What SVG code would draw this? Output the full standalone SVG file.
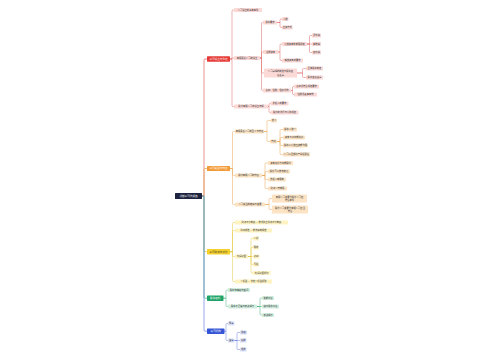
<svg xmlns="http://www.w3.org/2000/svg" width="500" height="360" viewBox="0 0 500 360">
<style>
text{font-family:"Noto Sans CJK SC","Noto Sans",sans-serif;text-anchor:middle}
.t{font-size:2.3px;fill:#333333}
.m{font-size:2.6px;fill:#ffffff}
.my{font-size:2.6px;fill:#333333}
.c{fill:none;stroke-linecap:round;stroke-linejoin:round}
.main{stroke-width:0.7}
.sub{stroke-width:0.5}
.cr{stroke:#de6464}.co{stroke:#eba552}.cy{stroke:#e3c83c}.cg{stroke:#45b27e}.cb{stroke:#6a80dc}
.fr{fill:#fbd9d6}.fo{fill:#fce3c4}.fy{fill:#fff3c2}.fg{fill:#d2eedf}.fb{fill:#d9e0fa}
</style>
<rect width="500" height="360" fill="#ffffff"/>
<g id="connectors">
<path class="c main cr" d="M202 196 H204 V60 Q204 59 205 59 H207"/>
<path class="c main co" d="M202 196 H204 V169.5 Q204 168.5 205 168.5 H207"/>
<path class="c main cy" d="M202 196 H204 V250.7 Q204 251.7 205 251.7 H207"/>
<path class="c main cg" d="M202 196 H204 V297.2 Q204 298.2 205 298.2 H207"/>
<path class="c main cb" d="M202 196 H204 V330.2 Q204 331.2 205 331.2 H207"/>
<g class="c sub cr">
<path d="M230 59 H232 V11 Q232 10 233 10 H234"/>
<path d="M230 59 H232 V58.5 Q232 58 233 58 H234"/>
<path d="M230 59 H232 V105.5 Q232 106.5 233 106.5 H234"/>
<path d="M260 58 H261.5 V23.5 Q261.5 22.5 262.5 22.5 H263"/>
<path d="M260 58 H261.5 V53 Q261.5 52 262.5 52 H263"/>
<path d="M260 58 H261.5 V72 Q261.5 73 262.5 73 H264"/>
<path d="M260 58 H261.5 V89.5 Q261.5 90.5 262.5 90.5 H263"/>
<path d="M277 22.5 H280 V20 Q280 19 281 19 H282"/>
<path d="M277 22.5 H280 V26.5 Q280 27.5 281 27.5 H282"/>
<path d="M278 52 H280 V45 Q280 44 281 44 H282"/>
<path d="M278 52 H280 V59.5 Q280 60.5 281 60.5 H282"/>
<path d="M307 44 H309.5 V36.5 Q309.5 35.5 310.5 35.5 H312"/>
<path d="M307 44 H312"/>
<path d="M307 44 H309.5 V51.5 Q309.5 52.5 310.5 52.5 H312"/>
<path d="M297 73 H302.5 V69.5 Q302.5 68.5 303.5 68.5 H306"/>
<path d="M297 73 H302.5 V76.5 Q302.5 77.5 303.5 77.5 H306"/>
<path d="M291 90.5 H292.5 V87.5 Q292.5 86.5 293.5 86.5 H294"/>
<path d="M291 90.5 H292.5 V93.5 Q292.5 94.5 293.5 94.5 H294"/>
<path d="M268 106.5 H269 V104.5 Q269 103.5 270 103.5 H270.5"/>
<path d="M268 106.5 H269 V111.5 Q269 112.5 270 112.5 H270.5"/>
</g>
<g class="c sub co">
<path d="M230 168.5 H232.5 V132.5 Q232.5 131.5 233.5 131.5 H235"/>
<path d="M230 168.5 H232.5 V174.5 Q232.5 175.5 233.5 175.5 H235"/>
<path d="M230 168.5 H232.5 V203.5 Q232.5 204.5 233.5 204.5 H235"/>
<path d="M264 131.5 H267 V121.5 Q267 120.5 268 120.5 H271"/>
<path d="M264 131.5 H267 V140.5 Q267 141.5 268 141.5 H270"/>
<path d="M277 141.5 H280 V130.5 Q280 129.5 281 129.5 H283"/>
<path d="M277 141.5 H280 V138.5 Q280 137.5 281 137.5 H283"/>
<path d="M277 141.5 H280 V144.5 Q280 145.5 281 145.5 H283"/>
<path d="M277 141.5 H280 V153.5 Q280 154.5 281 154.5 H283"/>
<path d="M262 175.5 H265 V164 Q265 163 266 163 H268"/>
<path d="M262 175.5 H265 V172.5 Q265 171.5 266 171.5 H268"/>
<path d="M262 175.5 H265 V178.5 Q265 179.5 266 179.5 H268"/>
<path d="M262 175.5 H265 V187.5 Q265 188.5 266 188.5 H268"/>
<path d="M265 204.5 H269 V199.5 Q269 198.5 270 198.5 H272"/>
<path d="M265 204.5 H269 V208.5 Q269 209.5 270 209.5 H272"/>
</g>
<g class="c sub cy">
<path d="M230 251.7 H232.5 V223.5 Q232.5 222.5 233.5 222.5 H235"/>
<path d="M230 251.7 H232.5 V231.5 Q232.5 230.5 233.5 230.5 H235"/>
<path d="M230 251.7 H232.5 V255.5 Q232.5 256.5 233.5 256.5 H235"/>
<path d="M230 251.7 H232.5 V280.5 Q232.5 281.5 233.5 281.5 H235"/>
<path d="M248 256.5 H251 V239.5 Q251 238.5 252 238.5 H253"/>
<path d="M248 256.5 H251 V248.5 Q251 247.5 252 247.5 H253"/>
<path d="M248 256.5 H253"/>
<path d="M248 256.5 H251 V263.5 Q251 264.5 252 264.5 H253"/>
<path d="M248 256.5 H251 V272 Q251 273 252 273 H253"/>
</g>
<g class="c sub cg">
<path d="M223.5 298.2 H226 V291 Q226 290 227 290 H228"/>
<path d="M223.5 298.2 H226 V305.5 Q226 306.5 227 306.5 H228"/>
<path d="M257 306.5 H260 V299 Q260 298 261 298 H262"/>
<path d="M257 306.5 H262"/>
<path d="M257 306.5 H260 V314 Q260 315 261 315 H262"/>
</g>
<g class="c sub cb">
<path d="M224.5 331.2 H226 V324.5 Q226 323.5 227 323.5 H228"/>
<path d="M224.5 331.2 H226 V339.5 Q226 340.5 227 340.5 H228"/>
<path d="M234.5 340.5 H237 V333.5 Q237 332.5 238 332.5 H240"/>
<path d="M234.5 340.5 H240"/>
<path d="M234.5 340.5 H237 V348.5 Q237 349.5 238 349.5 H240"/>
</g>
</g>

<g id="root"><rect x="175" y="193" width="27" height="6" rx="0.6" fill="#1e2340"/><text class="m" x="188.5" y="196.9">新版公司法解读</text></g>

<g id="n-red"><rect x="207" y="56.3" width="23" height="5.4" rx="0.6" fill="#e53935"/><text class="m" x="218.5" y="59.9">公司设立与登记</text></g>
<g id="n-a1"><rect class="fr" x="234" y="8" width="28" height="4" rx="0.5"/><text class="t" x="248" y="10.8">公司设立的基本条件</text></g>
<g id="n-a2"><rect class="fr" x="234" y="56" width="26" height="4" rx="0.5"/><text class="t" x="247" y="58.8">有限责任公司的设立</text></g>
<g id="n-a3"><rect class="fr" x="234" y="104.5" width="34" height="4" rx="0.5"/><text class="t" x="251" y="107.3">股份有限公司的设立流程</text></g>
<g id="n-b1"><rect class="fr" x="263" y="20.5" width="14" height="4" rx="0.5"/><text class="t" x="270" y="23.3">股东要求</text></g>
<g id="n-b2"><rect class="fr" x="263" y="50" width="15" height="4" rx="0.5"/><text class="t" x="270.5" y="52.8">注册资本</text></g>
<g id="n-b3"><rect class="fr" x="264" y="68.5" width="33" height="9" rx="0.5"/><text class="t" x="280.5" y="72.2">公司章程的制定与股东签</text><text class="t" x="280.5" y="75.6">名盖章</text></g>
<g id="n-b4"><rect class="fr" x="263" y="88.5" width="28" height="4" rx="0.5"/><text class="t" x="277" y="91.3">名称、住所、组织机构</text></g>
<g id="n-c1"><rect class="fr" x="282" y="17" width="6.5" height="4" rx="0.5"/><text class="t" x="285.25" y="19.8">人数</text></g>
<g id="n-c2"><rect class="fr" x="282" y="25.5" width="10.5" height="4" rx="0.5"/><text class="t" x="287.25" y="28.3">出资方式</text></g>
<g id="n-c3"><rect class="fr" x="282" y="42" width="25" height="4" rx="0.5"/><text class="t" x="294.5" y="44.8">认缴资本的期限规定</text></g>
<g id="n-c4"><rect class="fr" x="282" y="58.5" width="21" height="4" rx="0.5"/><text class="t" x="292.5" y="61.3">实缴资本的要求</text></g>
<g id="n-d1"><rect class="fr" x="312" y="33.5" width="9" height="4" rx="0.5"/><text class="t" x="316.5" y="36.3">货币类</text></g>
<g id="n-d2"><rect class="fr" x="312" y="42" width="9" height="4" rx="0.5"/><text class="t" x="316.5" y="44.8">实物类</text></g>
<g id="n-d3"><rect class="fr" x="312" y="50.5" width="9" height="4" rx="0.5"/><text class="t" x="316.5" y="53.3">权利类</text></g>
<g id="n-c5"><rect class="fr" x="306" y="66.5" width="17" height="4" rx="0.5"/><text class="t" x="314.5" y="69.3">全体股东制定</text></g>
<g id="n-c6"><rect class="fr" x="306" y="75.5" width="17" height="4" rx="0.5"/><text class="t" x="314.5" y="78.3">股东签名盖章</text></g>
<g id="n-c7"><rect class="fr" x="294" y="84.5" width="25" height="4" rx="0.5"/><text class="t" x="306.5" y="87.3">名称须符合规定要求</text></g>
<g id="n-c8"><rect class="fr" x="294" y="92.5" width="23" height="4" rx="0.5"/><text class="t" x="305.5" y="95.3">住所须真实有效</text></g>
<g id="n-c9"><rect class="fr" x="270.5" y="101.5" width="18" height="4" rx="0.5"/><text class="t" x="279.5" y="104.3">发起人的要求</text></g>
<g id="n-c10"><rect class="fr" x="270.5" y="110.5" width="28" height="4" rx="0.5"/><text class="t" x="284.5" y="113.3">股份的发行与认购规定</text></g>

<g id="n-orange"><rect x="207" y="166" width="23" height="5" rx="0.6" fill="#f39a36"/><text class="m" x="218.5" y="169.4">公司类型与特点</text></g>
<g id="n-e1"><rect class="fo" x="235" y="129.5" width="29" height="4" rx="0.5"/><text class="t" x="249.5" y="132.3">有限责任公司的含义与特征</text></g>
<g id="n-e2"><rect class="fo" x="235" y="173.5" width="27" height="4" rx="0.5"/><text class="t" x="248.5" y="176.3">股份有限公司的特征</text></g>
<g id="n-e3"><rect class="fo" x="235" y="202.5" width="30" height="4" rx="0.5"/><text class="t" x="250" y="205.3">公司类型的转换与变更</text></g>
<g id="n-f1"><rect class="fo" x="271" y="118.5" width="6" height="4" rx="0.5"/><text class="t" x="274" y="121.3">定义</text></g>
<g id="n-f2"><rect class="fo" x="270" y="139.5" width="7" height="4" rx="0.5"/><text class="t" x="273.5" y="142.3">特点</text></g>
<g id="n-g1"><rect class="fo" x="283" y="127.5" width="14" height="4" rx="0.5"/><text class="t" x="290" y="130.3">股东人数少</text></g>
<g id="n-g2"><rect class="fo" x="283" y="135.5" width="22" height="4" rx="0.5"/><text class="t" x="294" y="138.3">资本不必等额划分</text></g>
<g id="n-g3"><rect class="fo" x="283" y="143.5" width="25" height="4" rx="0.5"/><text class="t" x="295.5" y="146.3">股东以认缴出资额为限</text></g>
<g id="n-g4"><rect class="fo" x="283" y="152.5" width="27" height="4" rx="0.5"/><text class="t" x="296.5" y="155.3">公司以全部财产承担责任</text></g>
<g id="n-g5"><rect class="fo" x="268" y="161" width="25" height="4" rx="0.5"/><text class="t" x="280.5" y="163.8">资本划分为等额股份</text></g>
<g id="n-g6"><rect class="fo" x="268" y="169.5" width="22" height="4" rx="0.5"/><text class="t" x="279" y="172.3">股份可以依法转让</text></g>
<g id="n-g7"><rect class="fo" x="268" y="177.5" width="18" height="4" rx="0.5"/><text class="t" x="277" y="180.3">发起人有限制</text></g>
<g id="n-g8"><rect class="fo" x="268" y="186.5" width="19" height="4" rx="0.5"/><text class="t" x="277.5" y="189.3">财务公开披露</text></g>
<g id="n-g9"><rect class="fo" x="272" y="194.5" width="35" height="8" rx="0.5"/><text class="t" x="289.5" y="198.1">有限公司变更为股份公司应</text><text class="t" x="289.5" y="201.4">符合条件</text></g>
<g id="n-g10"><rect class="fo" x="272" y="205.5" width="36" height="8" rx="0.5"/><text class="t" x="290" y="209.1">股份公司变更为有限公司应当</text><text class="t" x="290" y="212.4">符合</text></g>

<g id="n-yellow"><rect x="207" y="249" width="23" height="5.4" rx="0.6" fill="#f6d12c"/><text class="my" x="218.5" y="252.6">公司财务与会计</text></g>
<g id="n-h1"><rect class="fy" x="235" y="220.5" width="53" height="4" rx="0.5"/><text class="t" x="261.5" y="223.3">财务会计制度 — 依法建立财务会计制度</text></g>
<g id="n-h2"><rect class="fy" x="235" y="228.5" width="37" height="4" rx="0.5"/><text class="t" x="253.5" y="231.3">财务报告 — 依法编制报告</text></g>
<g id="n-h3"><rect class="fy" x="235" y="254.5" width="13" height="4" rx="0.5"/><text class="t" x="241.5" y="257.3">利润分配</text></g>
<g id="n-h4"><rect class="fy" x="235" y="279.5" width="37" height="4" rx="0.5"/><text class="t" x="253.5" y="282.3">公积金 — 法定公积金提取</text></g>
<g id="n-i1"><rect class="fy" x="253" y="236.5" width="6" height="4" rx="0.5"/><text class="t" x="256" y="239.3">公积</text></g>
<g id="n-i2"><rect class="fy" x="253" y="245.5" width="6" height="4" rx="0.5"/><text class="t" x="256" y="248.3">税收</text></g>
<g id="n-i3"><rect class="fy" x="253" y="254.5" width="6.5" height="4" rx="0.5"/><text class="t" x="256.25" y="257.3">分红</text></g>
<g id="n-i4"><rect class="fy" x="253" y="262.5" width="6" height="4" rx="0.5"/><text class="t" x="256" y="265.3">亏损</text></g>
<g id="n-i5"><rect class="fy" x="253" y="271" width="17.5" height="4" rx="0.5"/><text class="t" x="261.75" y="273.8">利润分配顺序</text></g>

<g id="n-green"><rect x="207" y="295.5" width="16.5" height="5.4" rx="0.6" fill="#1ea468"/><text class="m" x="215.25" y="299.1">股东权利</text></g>
<g id="n-j1"><rect class="fg" x="228" y="288" width="22" height="4" rx="0.5"/><text class="t" x="239" y="290.8">股东知情权与查阅</text></g>
<g id="n-j2"><rect class="fg" x="228" y="304.5" width="29" height="4" rx="0.5"/><text class="t" x="242.5" y="307.3">股东会召集与表决程序</text></g>
<g id="n-k1"><rect class="fg" x="262" y="296" width="12" height="4" rx="0.5"/><text class="t" x="268" y="298.8">定期会议</text></g>
<g id="n-k2"><rect class="fg" x="262" y="304.5" width="17" height="4" rx="0.5"/><text class="t" x="270.5" y="307.3">临时股东会议</text></g>
<g id="n-k3"><rect class="fg" x="262" y="313" width="12" height="4" rx="0.5"/><text class="t" x="268" y="315.8">表决程序</text></g>

<g id="n-blue"><rect x="207" y="328.5" width="17.5" height="5.4" rx="0.6" fill="#3555d6"/><text class="m" x="215.75" y="332.1">公司机构</text></g>
<g id="n-l1"><rect class="fb" x="228" y="321.5" width="6.5" height="4" rx="0.5"/><text class="t" x="231.25" y="324.3">董事</text></g>
<g id="n-l2"><rect class="fb" x="228" y="338.5" width="6.5" height="4" rx="0.5"/><text class="t" x="231.25" y="341.3">监事</text></g>
<g id="n-m1"><rect class="fb" x="240" y="330.5" width="7" height="4" rx="0.5"/><text class="t" x="243.5" y="333.3">职权</text></g>
<g id="n-m2"><rect class="fb" x="240" y="338.5" width="6.5" height="4" rx="0.5"/><text class="t" x="243.25" y="341.3">任期</text></g>
<g id="n-m3"><rect class="fb" x="240" y="347.5" width="6.5" height="4" rx="0.5"/><text class="t" x="243.25" y="350.3">组成</text></g>
</svg>
